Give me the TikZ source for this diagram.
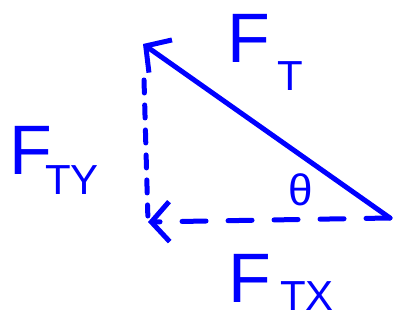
\documentclass[tikz,border=0pt]{standalone}
\usepackage{fontspec}
\setmainfont{Liberation Sans}
\usetikzlibrary{arrows.meta}
\definecolor{pen}{RGB}{0,0,255}
\begin{document}
\begin{tikzpicture}[x=1pt,y=-1pt,
  vec/.style={draw=pen,line width=5pt,line cap=round,line join=round},
  dashln/.style={vec,dash pattern=on 13pt off 12pt},
  dashlh/.style={vec,dash pattern=on 24pt off 22pt},
  barb/.style={-{Straight Barb[length=18pt,width=40pt,line width=5pt]}},
  big/.style={text=pen,inner sep=0pt,font=\fontsize{70}{70}\selectfont},
  sub/.style={text=pen,inner sep=0pt,font=\fontsize{42}{42}\selectfont},
  ang/.style={text=pen,inner sep=0pt,font=\fontsize{44}{44}\selectfont}]
\useasboundingbox (0,0) rectangle (395,320);
\coordinate (A) at (143,44);
\coordinate (B) at (148,222);
\coordinate (C) at (390,218);
\draw[vec,barb] (C) -- (A);
\draw[dashln,shorten <=36pt,shorten >=6pt] (A) -- (B);
\draw[dashlh,barb] (C) -- (B);
\node[big] (ft) at (249,38) {F};
\node[sub] (ftsub) at (290,76) {T};
\node[big] (fty) at (31,150) {F};
\node[sub] (ftysub) at (72,180) {TY};
\node[big] (ftx) at (250,278) {F};
\node[sub] (ftxsub) at (307,296) {TX};
\node[ang] (theta) at (301,190) {θ};
\end{tikzpicture}
\end{document}
